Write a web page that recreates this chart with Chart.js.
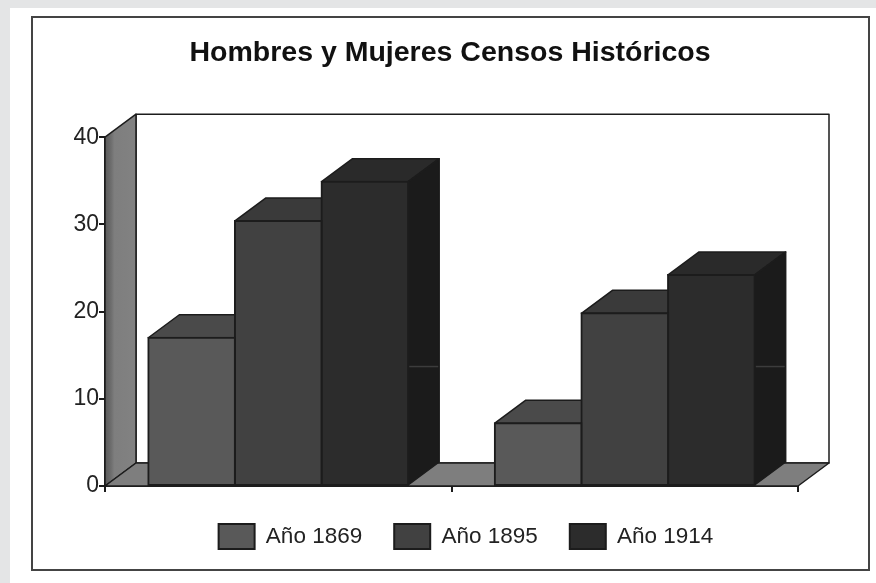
<!DOCTYPE html>
<html lang="es">
<head>
    <meta charset="UTF-8">
    <title>Hombres y Mujeres Censos Históricos</title>
    <script src="https://cdn.jsdelivr.net/npm/chart.js"></script>
    <style>
        html, body { margin: 0; height: 100%; background: #e4e5e6; overflow: hidden; }
        #card { position: absolute; left: 10px; top: 8px; right: 0; bottom: 0; background: #fff; }
        #frame { position: absolute; left: 31px; top: 16px; width: 835px; height: 551px; border: 2px solid #444; filter: blur(0.5px); }
        canvas { position: absolute; left: 0; top: 0; filter: blur(0.5px); }
    </style>
</head>
<body>
    <div id="card"></div>
    <div id="frame"></div>
    <div style="position:absolute;left:0;top:0;width:876px;height:583px"><canvas id="chart" width="876" height="583"></canvas></div>

    <script>
        const categories = ['Hombres', 'Mujeres'];
        const year1869 = [17, 7.2];
        const year1895 = [30.4, 19.8];
        const year1914 = [34.9, 24.2];
        const yTicks = [0, 10, 20, 30, 40];
        // faint line seen on the side of the darkest bars
        const sideMark = 13.7;

        // depth of the fake 3D effect
        const depthX = 31;
        const depthY = -23;
        const lineColor = '#1c1c1c';

        function poly(ctx, pts, fill) {
            ctx.beginPath();
            pts.forEach((p, i) => i ? ctx.lineTo(p[0], p[1]) : ctx.moveTo(p[0], p[1]));
            ctx.closePath();
            ctx.fillStyle = fill;
            ctx.fill();
            ctx.lineWidth = 1.5;
            ctx.strokeStyle = lineColor;
            ctx.stroke();
        }

        // back wall, side wall, floor, and the top and side faces of each bar
        const box3d = {
            id: 'box3d',
            afterLayout(chart) {
                // title and legend are not centred on the plot in the original
                chart.titleBlock.left += 21;
                chart.titleBlock.right += 21;
                chart.legend.left += 37;
                chart.legend.right += 37;
            },
            beforeDatasetsDraw(chart) {
                const ctx = chart.ctx;
                const a = chart.chartArea;
                ctx.save();
                ctx.lineJoin = 'round';
                poly(ctx, [[a.left + depthX, a.top + depthY], [a.right + depthX, a.top + depthY],
                    [a.right + depthX, a.bottom + depthY], [a.left + depthX, a.bottom + depthY]], '#fff');
                const wall = ctx.createLinearGradient(a.left, 0, a.left + depthX, 0);
                wall.addColorStop(0, '#5a5a5a');
                wall.addColorStop(0.2, '#6e6e6e');
                wall.addColorStop(0.3, '#7e7e7e');
                wall.addColorStop(1, '#828282');
                poly(ctx, [[a.left, a.top], [a.left + depthX, a.top + depthY],
                    [a.left + depthX, a.bottom + depthY], [a.left, a.bottom]], wall);
                poly(ctx, [[a.left, a.bottom], [a.left + depthX, a.bottom + depthY],
                    [a.right + depthX, a.bottom + depthY], [a.right, a.bottom]], '#7e7e7e');

                chart.data.datasets.forEach((ds, i) => {
                    chart.getDatasetMeta(i).data.forEach(bar => {
                        const p = bar.getProps(['x', 'y', 'base', 'width'], true);
                        const l = p.x - p.width / 2;
                        const r = p.x + p.width / 2;
                        poly(ctx, [[l, p.y], [l + depthX, p.y + depthY], [r + depthX, p.y + depthY], [r, p.y]], ds.topColor);
                        poly(ctx, [[r, p.y], [r + depthX, p.y + depthY], [r + depthX, p.base + depthY], [r, p.base]], ds.sideColor);
                        if (i === chart.data.datasets.length - 1) {
                            const m = chart.scales.y.getPixelForValue(sideMark);
                            ctx.beginPath();
                            ctx.moveTo(r + 1, m);
                            ctx.lineTo(r + depthX - 1, m);
                            ctx.lineWidth = 1.5;
                            ctx.strokeStyle = '#3c3c3c';
                            ctx.stroke();
                        }
                    });
                });
                ctx.restore();
            }
        };

        new Chart(document.getElementById('chart'), {
            type: 'bar',
            data: {
                labels: categories,
                datasets: [
                    { label: 'Año 1869', data: year1869, backgroundColor: '#595959', topColor: '#4a4a4a', sideColor: '#333', borderColor: lineColor, borderWidth: 2 },
                    { label: 'Año 1895', data: year1895, backgroundColor: '#414141', topColor: '#3a3a3a', sideColor: '#2a2a2a', borderColor: lineColor, borderWidth: 2 },
                    { label: 'Año 1914', data: year1914, backgroundColor: '#2c2c2c', topColor: '#2a2a2a', sideColor: '#1b1b1b', borderColor: lineColor, borderWidth: 2 }
                ]
            },
            plugins: [box3d],
            options: {
                responsive: false,
                animation: false,
                layout: { padding: { left: 60, right: 78, top: 36, bottom: 24 } },
                datasets: { bar: { categoryPercentage: 0.75, barPercentage: 1, borderSkipped: false, inflateAmount: 1 } },
                plugins: {
                    tooltip: { enabled: false },
                    title: {
                        display: true,
                        text: 'Hombres y Mujeres Censos Históricos',
                        color: '#111',
                        font: { family: 'Liberation Sans', size: 28.5, weight: 'bold' },
                        padding: { top: 0, bottom: 67 }
                    },
                    legend: {
                        position: 'bottom',
                        labels: {
                            boxWidth: 36,
                            boxHeight: 25,
                            padding: 32,
                            color: '#222',
                            font: { family: 'Liberation Sans', size: 22.5 }
                        }
                    }
                },
                scales: {
                    x: {
                        offset: true,
                        border: { color: lineColor, width: 2 },
                        grid: { drawOnChartArea: false, color: lineColor, lineWidth: 2, tickLength: 6, offset: true },
                        ticks: { display: false }
                    },
                    y: {
                        min: 0,
                        max: 40,
                        afterBuildTicks(axis) { axis.ticks = yTicks.map(v => ({ value: v })); },
                        afterFit(axis) { axis.width = 45; },
                        border: { color: lineColor, width: 2 },
                        grid: { drawOnChartArea: false, color: lineColor, lineWidth: 2, tickLength: 6 },
                        ticks: { color: '#222', padding: 0, font: { family: 'Liberation Sans', size: 23 } }
                    }
                }
            }
        });
    </script>
</body>
</html>
